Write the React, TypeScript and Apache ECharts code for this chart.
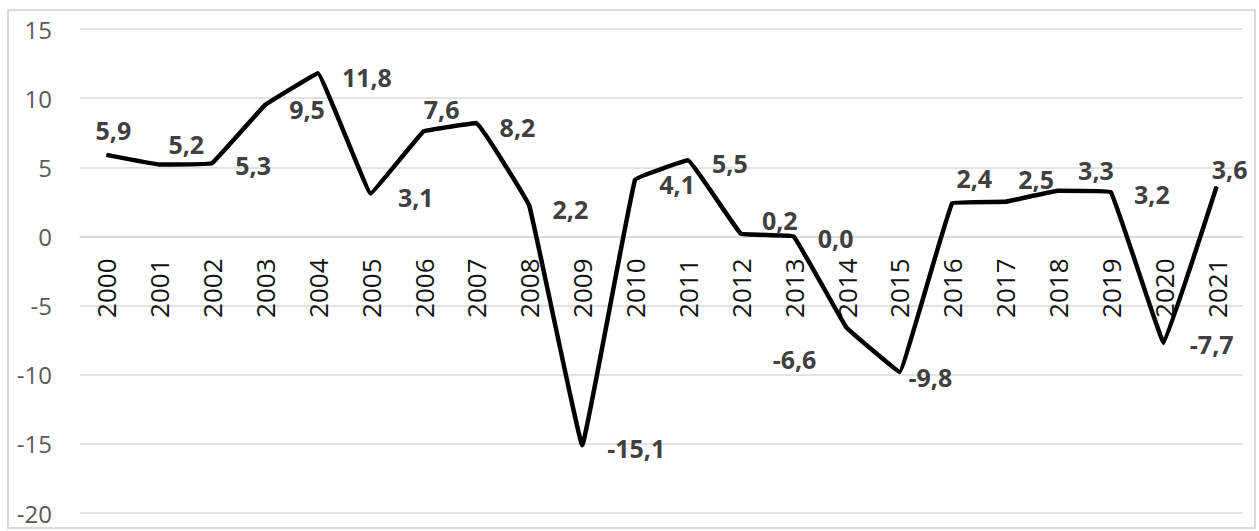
import React, { useEffect, useRef } from "react";
import * as echarts from "echarts";

const years = ["2000","2001","2002","2003","2004","2005","2006","2007","2008","2009","2010","2011","2012","2013","2014","2015","2016","2017","2018","2019","2020","2021"];
const values = [5.9, 5.2, 5.3, 9.5, 11.8, 3.1, 7.6, 8.2, 2.2, -15.1, 4.1, 5.5, 0.2, 0.0, -6.6, -9.8, 2.4, 2.5, 3.3, 3.2, -7.7, 3.6];
const yTicks = { min: -20, max: 15, interval: 5 };
// label offsets (dx, dy) from each point, matching the original label placement
const labelOffsets: [number, number][] = [
  [7, -25], [27, -21], [41, 2], [42, 4], [49, 4], [45, 3], [18, -22], [41, 4], [41, 3], [54, 3], [42, 4],
  [42, 3], [39, -14], [42, 2], [-52, 31], [31, 5], [22, -25], [31, -23], [38, -21], [41, 2], [48, 1], [13, -18],
];

const FONT = "'Open Sans', 'Noto Sans', sans-serif";

export default function App() {
  const ref = useRef<HTMLDivElement>(null);
  useEffect(() => {
    document.body.style.margin = "0";
    const chart = echarts.init(ref.current!, null, { renderer: "svg" });
    chart.setOption({
      animation: false,
      backgroundColor: "#ffffff",
      graphic: [
        {
          type: "rect",
          shape: { x: 8, y: 10, width: 1247, height: 518 },
          style: { fill: "none", stroke: "#d9d9d9", lineWidth: 2 },
          silent: true,
        },
      ],
      grid: { left: 80, right: 16, top: 29, bottom: 18, containLabel: false, outerBoundsMode: "none" },
      xAxis: {
        type: "category",
        data: years,
        boundaryGap: true,
        axisLine: { show: true, onZero: false, lineStyle: { color: "#d9d9d9", width: 1.5 } },
        axisTick: { show: false },
        axisLabel: {
          rotate: 90,
          margin: 22,
          color: "#111111",
          fontFamily: FONT,
          fontSize: 26,
          interval: 0,
        },
      },
      yAxis: {
        type: "value",
        min: yTicks.min,
        max: yTicks.max,
        interval: yTicks.interval,
        axisLine: { show: false },
        axisTick: { show: false },
        splitLine: { lineStyle: { color: "#d9d9d9", width: 1.5 } },
        axisLabel: { color: "#595959", fontFamily: FONT, fontSize: 24, margin: 28 },
      },
      series: [
        {
          type: "line",
          smooth: 0.05,
          symbol: "circle",
          symbolSize: 1,
          itemStyle: { color: "#000000" },
          lineStyle: { color: "#000000", width: 4.5 },
          data: values.map((v, i) => ({
            value: v,
            label: {
              show: true,
              position: "inside",
              offset: labelOffsets[i],
              formatter: () => v.toFixed(1).replace(".", ","),
              fontFamily: FONT,
              fontSize: 25,
              fontWeight: "bold",
              color: "#404040",
            },
          })),
        },
      ],
    });
    // move the category axis (and its labels) to the zero line, via the value scale
    const y0 = chart.convertToPixel({ yAxisIndex: 0 }, 0) as number;
    const yMin = chart.convertToPixel({ yAxisIndex: 0 }, yTicks.min) as number;
    chart.setOption({ xAxis: { offset: -(yMin - y0) } });
    return () => chart.dispose();
  }, []);
  return <div ref={ref} style={{ width: 1259, height: 531 }} />;
}
